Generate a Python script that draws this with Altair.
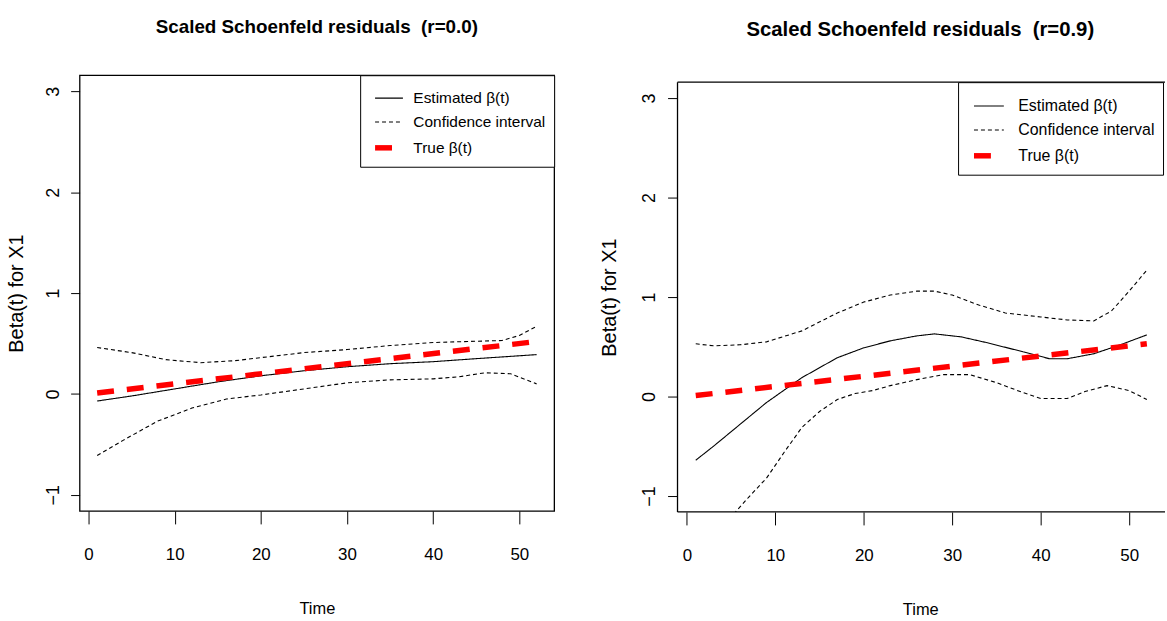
import altair as alt
import pandas as pd

REG = "Liberation Sans, Arial, sans-serif"

SERIES = ["Estimated β(t)", "Confidence interval", "True β(t)"]
SERIES_COLORS = ["black", "black", "#ff0000"]
SERIES_DASH = [[1, 0], [4, 3], [17, 13]]
SERIES_WIDTH = [1.1, 1.1, 5.5]

X_TICKS = [0, 10, 20, 30, 40, 50]
Y_TICKS = [-1, 0, 1, 2, 3]

# ---- Left panel (r=0.0)
L_EST_T = [1, 5, 10, 15, 20, 25, 30, 35, 40, 45, 52]
L_EST_V = [-0.07, -0.02, 0.05, 0.12, 0.18, 0.23, 0.27, 0.30, 0.32, 0.35, 0.39]
L_UP_T = [1, 5, 9, 13, 17, 21, 25, 30, 35, 40, 44, 48, 50, 52]
L_UP_V = [0.46, 0.41, 0.34, 0.31, 0.33, 0.37, 0.41, 0.44, 0.48, 0.51, 0.52, 0.53, 0.58, 0.67]
L_LO_T = [1, 4, 8, 12, 16, 20, 25, 30, 35, 40, 43, 46, 49, 52]
L_LO_V = [-0.61, -0.46, -0.27, -0.14, -0.05, -0.01, 0.05, 0.11, 0.14, 0.15, 0.17, 0.21, 0.20, 0.10]
L_TRUE_T = [1, 52]
L_TRUE_V = [0.01, 0.52]

# ---- Right panel (r=0.9)
R_EST_T = [1, 3, 6, 9, 13, 17, 20, 23, 26, 28, 31, 34, 38, 41, 43, 46, 49, 52]
R_EST_V = [-0.64, -0.50, -0.28, -0.06, 0.19, 0.39, 0.49, 0.56, 0.61, 0.63, 0.60, 0.54, 0.45, 0.38, 0.38, 0.43, 0.52, 0.62]
R_UP_T = [1, 3, 6, 9, 13, 17, 20, 23, 26, 28, 30, 33, 36, 40, 43, 46, 48, 50, 52]
R_UP_V = [0.53, 0.51, 0.52, 0.55, 0.66, 0.84, 0.95, 1.02, 1.06, 1.06, 1.02, 0.92, 0.84, 0.80, 0.77, 0.76, 0.86, 1.06, 1.27]
R_LO_T = [1, 3, 5.5, 7, 9, 11, 13, 15, 17, 19, 21, 23, 26, 29, 32, 35, 38, 40, 43, 45, 47.5, 50, 52]
R_LO_V = [-1.85, -1.50, -1.16, -1.01, -0.82, -0.56, -0.31, -0.15, -0.03, 0.03, 0.06, 0.11, 0.17, 0.22, 0.22, 0.14, 0.04, -0.02, -0.02, 0.05, 0.11, 0.06, -0.03]
R_TRUE_T = [1, 52]
R_TRUE_V = [0.01, 0.53]


def build(parts):
    rows = []
    for series, line_id, ts, vs in parts:
        for t, v in zip(ts, vs):
            rows.append({"series": series, "line": line_id, "t": t, "v": v})
    return pd.DataFrame(rows)


df_left = build([
    (SERIES[0], "est", L_EST_T, L_EST_V),
    (SERIES[1], "upper", L_UP_T, L_UP_V),
    (SERIES[1], "lower", L_LO_T, L_LO_V),
    (SERIES[2], "true", L_TRUE_T, L_TRUE_V),
])
df_right = build([
    (SERIES[0], "est", R_EST_T, R_EST_V),
    (SERIES[1], "upper", R_UP_T, R_UP_V),
    (SERIES[1], "lower", R_LO_T, R_LO_V),
    (SERIES[2], "true", R_TRUE_T, R_TRUE_V),
])


def panel(df, title, title_size, xdom, W, H, title_offset, leg_font, sym_size,
          sym_off, lab_off, ytick, xtick, ylabpad, ytitlepad, framed):
    legend = alt.Legend(
        title=None, orient="top-right", offset=0, padding=8,
        symbolOffset=sym_off, labelOffset=lab_off, labelFont=REG, labelFontSize=leg_font,
        labelColor="black", symbolSize=sym_size, symbolType="stroke",
        strokeColor="black", fillColor="white", rowPadding=-6, labelLimit=400,
    )
    lines = alt.Chart(df).mark_line(clip=True, strokeCap="butt").encode(
        x=alt.X("t:Q", scale=alt.Scale(domain=xdom, nice=False, zero=False),
                axis=alt.Axis(values=X_TICKS, title="Time", domain=False, grid=False,
                              tickSize=xtick, tickColor="black", tickWidth=1,
                              labelFont=REG, labelFontSize=17, labelColor="black",
                              labelPadding=23, titleFont=REG, titleFontSize=16.5,
                              titleFontWeight="normal", titleColor="black",
                              titlePadding=38)),
        y=alt.Y("v:Q", scale=alt.Scale(domain=[-1.16, 3.16], nice=False, zero=False),
                axis=alt.Axis(values=Y_TICKS, title="Beta(t) for X1", domain=False,
                              grid=False, tickSize=ytick, tickColor="black", tickWidth=1,
                              labelFont=REG, labelFontSize=18, labelColor="black",
                              labelAngle=270, labelAlign="center", labelBaseline="bottom",
                              labelPadding=ylabpad, titleFont=REG, titleFontSize=20,
                              titleFontWeight="normal", titleColor="black",
                              titlePadding=ytitlepad)),
        color=alt.Color("series:O", scale=alt.Scale(type="ordinal", domain=SERIES,
                                                    range=SERIES_COLORS),
                        legend=legend),
        strokeDash=alt.StrokeDash("series:O", scale=alt.Scale(type="ordinal", domain=SERIES,
                                                              range=SERIES_DASH),
                                  legend=legend),
        strokeWidth=alt.StrokeWidth("series:O", scale=alt.Scale(type="ordinal", domain=SERIES,
                                                                range=SERIES_WIDTH),
                                    legend=legend),
        detail="line:N",
    )
    layers = [lines]
    if not framed:
        one = pd.DataFrame({"k": [0]})
        base = alt.Chart(one).mark_rule(color="black", strokeWidth=1.3)
        layers += [
            base.encode(x=alt.value(0), x2=alt.value(W + 2), y=alt.value(0)),
            base.encode(x=alt.value(0), x2=alt.value(W + 2), y=alt.value(H)),
            base.encode(x=alt.value(0), y=alt.value(0), y2=alt.value(H)),
        ]
    ch = alt.layer(*layers).properties(
        width=W, height=H,
        title=alt.TitleParams(text=title, font=REG, fontSize=title_size, fontWeight="bold",
                              color="black", anchor="middle", frame="group",
                              offset=title_offset),
        view=alt.ViewBackground(stroke="black" if framed else "transparent",
                                strokeWidth=1.3),
    )
    return ch


def spacer(h):
    return alt.Chart(pd.DataFrame({"k": [0]})).mark_rule(strokeOpacity=0).encode(
        x=alt.value(0), y=alt.value(0), y2=alt.value(h)
    ).properties(width=1, height=h, view=alt.ViewBackground(stroke="transparent"))


def column(top_gap, ch):
    return alt.vconcat(spacer(top_gap), ch, spacing=0).resolve_legend(
        color="independent", strokeDash="independent", strokeWidth="independent"
    ).resolve_scale(color="independent", strokeDash="independent", strokeWidth="independent")


left = panel(df_left, "Scaled Schoenfeld residuals\u00a0 (r=0.0)", 18.9, [-1.04, 54.04],
             477, 438, 38, 15.5, 784, 4, 7.5, 9, 13, 8, 18, True)
right = panel(df_right, "Scaled Schoenfeld residuals\u00a0 (r=0.9)", 20.4, [-1.06, 53.83],
              488, 432, 41.5, 16, 900, 5, 11.5, 10, 13, 9, 21, False)

chart = alt.hconcat(column(1, left), column(3, right), spacing=43).resolve_legend(
    color="independent", strokeDash="independent", strokeWidth="independent"
).resolve_scale(
    color="independent", strokeDash="independent", strokeWidth="independent"
).properties(
    padding={"left": 6, "top": 12, "right": 0, "bottom": 0},
    background="white",
)

chart.save("out.html", embed_options={"renderer": "svg", "actions": False})
